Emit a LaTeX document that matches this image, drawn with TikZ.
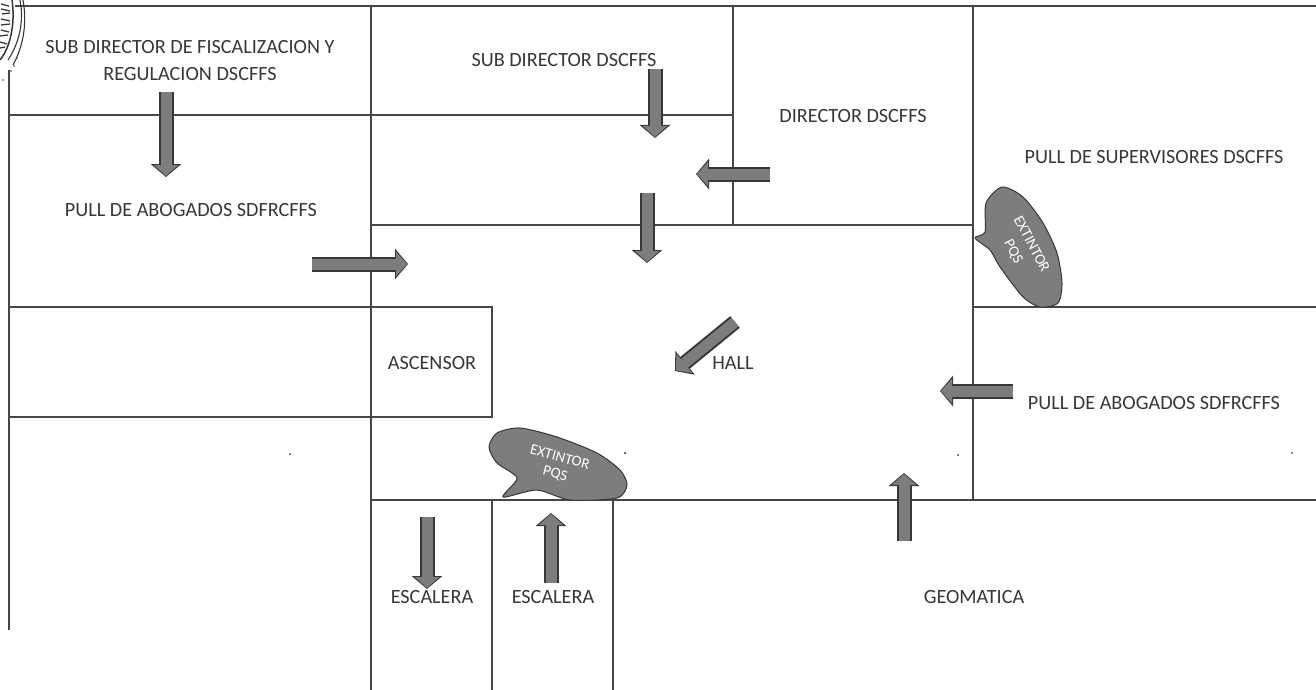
\documentclass[tikz,border=0pt]{standalone}
\usepackage{fontspec}
\setmainfont{Carlito}
\usetikzlibrary{arrows.meta}
\definecolor{ink}{RGB}{55,55,55}
\definecolor{wallc}{RGB}{70,70,70}
\definecolor{midg}{RGB}{125,125,125}
\tikzset{
  wall/.style={draw=wallc,line width=1.1pt},
  lbl/.style={text=ink,font=\fontsize{20.2}{27}\selectfont,align=center,inner sep=0pt},
  blkdark/.style={draw=ink,line width=15pt,-{Triangle[length=13pt,width=30pt]},shorten >=0pt},
  blklight/.style={draw=midg,line width=11pt,-{Triangle[length=11pt,width=24pt]},shorten >=1pt},
  callout/.style={draw=ink,line width=1pt,fill=midg},
  ctext/.style={text=white,font=\fontsize{15}{15}\selectfont,inner sep=0pt},
  speck/.style={fill=ink,draw=none},
  sealmark/.style={draw=ink,line width=1.3pt}
}
\newcommand{\blockarrow}[2]{\draw[blkdark] (#1) -- (#2);\draw[blklight] (#1) -- (#2);}
\begin{document}
\begin{tikzpicture}[x=1pt,y=-1pt]
\useasboundingbox (0,0) rectangle (1316,690);
\fill[white] (0,0) rectangle (1316,690);
% walls
\draw[wall] (9,70) -- (9,630);
\draw[wall] (15,6) -- (1316,6);
\draw[wall] (371,6) -- (371,690);
\draw[wall] (733,6) -- (733,225);
\draw[wall] (973,6) -- (973,500);
\draw[wall] (9,115) -- (733,115);
\draw[wall] (371,225) -- (973,225);
\draw[wall] (9,307) -- (492,307) -- (492,417) -- (9,417);
\draw[wall] (973,307) -- (1316,307);
\draw[wall] (371,500) -- (1316,500);
\draw[wall] (492,500) -- (492,690);
\draw[wall] (613,500) -- (613,690);
% seal: arcs and illegible lettering, drawn as marks
\draw[ink,line width=1.1pt] (23,0) .. controls (27,22) and (24,45) .. (13,65);
\draw[ink,line width=1.1pt] (20,0) .. controls (24,20) and (20,42) .. (8,60);
\draw[ink,line width=1.5pt] (12,0) .. controls (15,20) and (12,45) .. (0,60);
\draw[sealmark] (1,4) -- (9,6) (1,9) -- (10,11) (2,14) -- (10,13) (1,19) -- (10,21) (1,25) -- (10,24) (1,30) -- (9,32) (0,36) -- (8,35) (0,42) -- (7,44) (0,48) -- (5,47);
\fill[speck] (14,66) circle (0.8pt) (17,58) circle (0.8pt) (11,71) circle (0.8pt) (3,80) circle (0.8pt);
% labels
\node[lbl] (subfisc) at (190,61) {SUB DIRECTOR DE FISCALIZACION Y\\REGULACION DSCFFS};
\node[lbl] (pull1) at (191,210) {PULL DE ABOGADOS SDFRCFFS};
\node[lbl] (subdir) at (564,60) {SUB DIRECTOR DSCFFS};
\node[lbl] (dir) at (853,116) {DIRECTOR DSCFFS};
\node[lbl] (pullsup) at (1154,157) {PULL DE SUPERVISORES DSCFFS};
\node[lbl] (asc) at (432,363) {ASCENSOR};
\node[lbl] (hall) at (733,363) {HALL};
\node[lbl] (pull2) at (1154,403) {PULL DE ABOGADOS SDFRCFFS};
\node[lbl] (esc1) at (432,597) {ESCALERA};
\node[lbl] (esc2) at (553,597) {ESCALERA};
\node[lbl] (geo) at (974,597) {GEOMATICA};
% arrows
\coordinate (a1s) at (166,92);  \coordinate (a1e) at (166,177);
\coordinate (a2s) at (655,69);  \coordinate (a2e) at (655,138);
\coordinate (a3s) at (770,174); \coordinate (a3e) at (696,174);
\coordinate (a4s) at (647,193); \coordinate (a4e) at (647,263);
\coordinate (a5s) at (312,264); \coordinate (a5e) at (408,264);
\coordinate (a6s) at (735,322); \coordinate (a6e) at (675,371);
\coordinate (a7s) at (1013,391);\coordinate (a7e) at (940,391);
\coordinate (a8s) at (904,541); \coordinate (a8e) at (904,473);
\coordinate (a9s) at (427,517); \coordinate (a9e) at (427,589);
\coordinate (a10s) at (551,583);\coordinate (a10e) at (551,513);
\blockarrow{a1s}{a1e}
\blockarrow{a2s}{a2e}
\blockarrow{a3s}{a3e}
\blockarrow{a4s}{a4e}
\blockarrow{a5s}{a5e}
\blockarrow{a6s}{a6e}
\blockarrow{a7s}{a7e}
\blockarrow{a8s}{a8e}
\blockarrow{a9s}{a9e}
\blockarrow{a10s}{a10e}
% callouts
\draw[callout] plot[smooth cycle,tension=0.45] coordinates {(975,238)(985,232)(986,203)(1002,187)(1023,197)(1043,223)(1057,253)(1062,283)(1058,303)(1040,307)(1023,297)(1000,267)(990,250)};
\node[ctext,rotate=-62] (ext1) at (1032,244) {EXTINTOR};
\node[ctext,rotate=-62] (pqs1) at (1013,252) {PQS};
\draw[callout] plot[smooth cycle,tension=0.45] coordinates {(503,497)(517,478)(497,463)(489,447)(497,433)(520,428)(557,437)(597,453)(620,470)(627,485)(617,498)(570,500)(537,490)};
\node[ctext,rotate=-15] (ext2) at (560,457) {EXTINTOR};
\node[ctext,rotate=-15] (pqs2) at (555,474) {PQS};
% specks
\fill[speck] (290,454) circle (1pt);
\fill[speck] (625,453) circle (1.2pt);
\fill[speck] (958,455) circle (1pt);
\fill[speck] (1292,453) circle (1pt);
\end{tikzpicture}
\end{document}
